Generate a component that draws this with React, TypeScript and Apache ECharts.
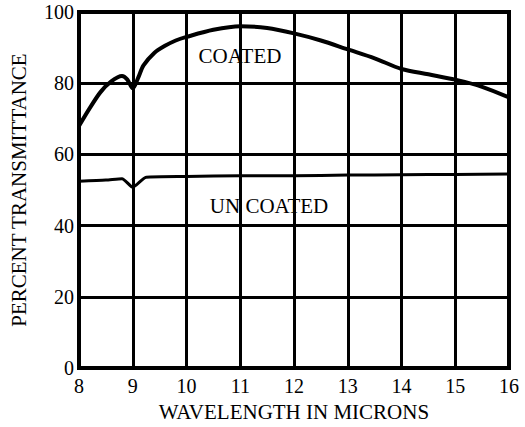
import React, { useEffect, useRef } from "react";
import * as echarts from "echarts";

const coatedX = [8, 8.2, 8.4, 8.6, 8.8, 8.9, 9.0, 9.1, 9.2, 9.4, 9.6, 9.8, 10, 10.5, 11, 11.5, 12, 12.5, 13, 13.5, 14, 14.5, 15, 15.5, 16];
const coatedY = [68, 73, 77.5, 80.5, 82, 81, 78.5, 81.5, 85, 88.5, 90.5, 92, 93, 95, 96, 95.5, 94, 92, 89.5, 87, 84, 82.5, 81, 79, 76];
const uncoatedX = [8, 8.5, 8.8, 9.0, 9.25, 10, 11, 12, 13, 14, 15, 16];
const uncoatedY = [52.5, 52.8, 53.2, 50.8, 53.6, 53.8, 54, 54, 54.2, 54.3, 54.4, 54.5];
const seriesNames = ["COATED", "UN COATED"];
const xAxisName = "WAVELENGTH IN MICRONS";
const yAxisName = "PERCENT TRANSMITTANCE";

const FONT = "'Liberation Serif', 'DejaVu Serif', serif";

export default function App() {
  const ref = useRef<HTMLDivElement>(null);
  useEffect(() => {
    if (!ref.current) return;
    const chart = echarts.init(ref.current, null, { renderer: "svg" });
    chart.setOption({
      animation: false,
      backgroundColor: "#fff",
      grid: {
        left: 74,
        right: 16,
        top: 12,
        bottom: 55,
        show: true,
        borderColor: "#000",
        borderWidth: 4,
      },
      xAxis: {
        type: "value",
        min: 8,
        max: 16,
        interval: 1,
        name: xAxisName,
        nameLocation: "middle",
        nameGap: 28,
        nameTextStyle: { fontFamily: FONT, fontSize: 21, color: "#000" },
        axisLine: { show: true, lineStyle: { color: "#000", width: 4 } },
        axisTick: { show: false },
        axisLabel: { fontFamily: FONT, fontSize: 20, color: "#000", margin: 8 },
        splitLine: { show: true, lineStyle: { color: "#000", width: 3 } },
      },
      yAxis: {
        type: "value",
        min: 0,
        max: 100,
        interval: 20,
        name: yAxisName,
        nameLocation: "middle",
        nameGap: 50,
        nameTextStyle: { fontFamily: FONT, fontSize: 21, color: "#000" },
        axisLine: { show: true, lineStyle: { color: "#000", width: 4 } },
        axisTick: { show: false },
        axisLabel: { fontFamily: FONT, fontSize: 20, color: "#000", margin: 5 },
        splitLine: { show: true, lineStyle: { color: "#000", width: 3 } },
      },
      series: [
        {
          name: seriesNames[0],
          type: "line",
          data: coatedX.map((x, i) => [x, coatedY[i]]),
          showSymbol: false,
          smooth: 0.3,
          lineStyle: { color: "#000", width: 4 },
        },
        {
          name: seriesNames[1],
          type: "line",
          data: uncoatedX.map((x, i) => [x, uncoatedY[i]]),
          showSymbol: false,
          smooth: 0.2,
          lineStyle: { color: "#000", width: 3 },
        },
      ],
      graphic: [
        {
          type: "text",
          x: 240,
          y: 56,
          style: {
            text: seriesNames[0],
            fontFamily: FONT,
            fontSize: 21,
            fill: "#000",
            align: "center",
            verticalAlign: "middle",
          },
        },
        {
          type: "text",
          x: 269,
          y: 206,
          style: {
            text: seriesNames[1],
            fontFamily: FONT,
            fontSize: 21,
            fill: "#000",
            align: "center",
            verticalAlign: "middle",
          },
        },
      ],
    });
    return () => chart.dispose();
  }, []);
  return <div ref={ref} style={{ width: 525, height: 427, position: "absolute", left: 0, top: 0 }} />;
}
